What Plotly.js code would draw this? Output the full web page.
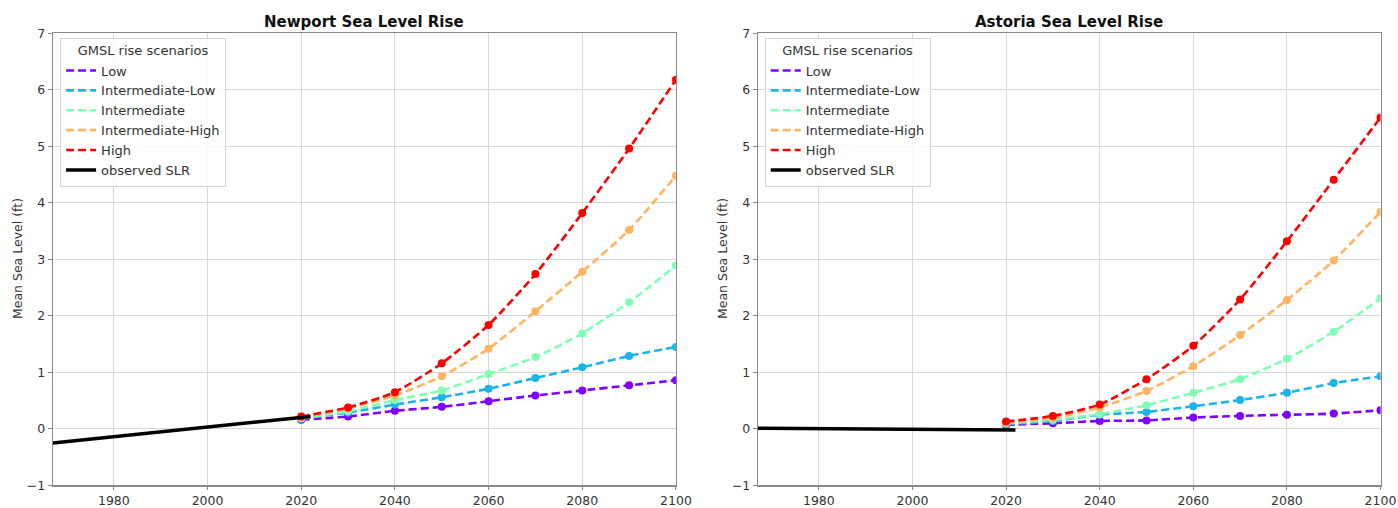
<!DOCTYPE html>
<html>
<head>
<meta charset="utf-8">
<script src="https://cdn.plot.ly/plotly-3.0.1.min.js"></script>
<style>html,body{margin:0;padding:0;background:#fff;}#chart{width:1398px;height:508px;}</style>
</head>
<body>
<div id="chart"></div>
<script>
// ---- data ----
const years = [2020, 2030, 2040, 2050, 2060, 2070, 2080, 2090, 2100];
const scenarioNames = ["Low", "Intermediate-Low", "Intermediate", "Intermediate-High", "High"];
const scenarioColors = ["#8000ff", "#1ab4eb", "#80ffb4", "#ffb462", "#ff0000"];

const newportLow      = [0.16, 0.22, 0.32, 0.39, 0.49, 0.59, 0.68, 0.77, 0.86];
const newportIntLow   = [0.18, 0.29, 0.43, 0.56, 0.71, 0.90, 1.09, 1.29, 1.45];
const newportInt      = [0.19, 0.31, 0.51, 0.68, 0.97, 1.27, 1.69, 2.24, 2.89];
const newportIntHigh  = [0.20, 0.36, 0.59, 0.93, 1.42, 2.08, 2.78, 3.52, 4.48];
const newportHigh     = [0.22, 0.38, 0.65, 1.16, 1.84, 2.74, 3.82, 4.96, 6.18];
const newportObsYears = [1967, 1980, 2000, 2022];
const newportObs      = [-0.25, -0.14, 0.03, 0.22];

const astoriaLow      = [0.07, 0.10, 0.14, 0.15, 0.20, 0.23, 0.25, 0.27, 0.33];
const astoriaIntLow   = [0.08, 0.14, 0.25, 0.30, 0.40, 0.51, 0.64, 0.81, 0.93];
const astoriaInt      = [0.10, 0.16, 0.26, 0.42, 0.64, 0.88, 1.24, 1.72, 2.31];
const astoriaIntHigh  = [0.11, 0.19, 0.38, 0.67, 1.11, 1.66, 2.28, 2.98, 3.84];
const astoriaHigh     = [0.13, 0.23, 0.43, 0.88, 1.47, 2.29, 3.32, 4.41, 5.51];
const astoriaObsYears = [1967, 1995, 2022];
const astoriaObs      = [0.01, -0.005, -0.02];

const xTickVals = [1980, 2000, 2020, 2040, 2060, 2080, 2100];
const yTickVals = [-1, 0, 1, 2, 3, 4, 5, 6, 7];

// ---- traces ----
function scenarioTraces(series, xa, ya, leg) {
  const lines = series.map((vals, i) => ({
    x: years, y: vals, xaxis: xa, yaxis: ya, legend: leg, legendgroup: leg + i,
    type: "scatter", mode: "lines", name: scenarioNames[i],
    line: {color: scenarioColors[i], width: 2.6, dash: "8px,4px", shape: "spline", smoothing: 0.6},
    showlegend: true
  }));
  const marks = series.map((vals, i) => ({
    x: years, y: vals, xaxis: xa, yaxis: ya, legend: leg, legendgroup: leg + i,
    type: "scatter", mode: "markers", name: scenarioNames[i],
    marker: {color: scenarioColors[i], size: 8},
    showlegend: false
  }));
  return lines.concat(marks);
}
function obsTrace(xs, ys, xa, ya, leg) {
  return {x: xs, y: ys, xaxis: xa, yaxis: ya, legend: leg, legendgroup: leg + "obs", type: "scatter", mode: "lines",
    name: "observed SLR", line: {color: "#000", width: 3.5}, showlegend: true};
}
const traces = [
  ...scenarioTraces([newportLow, newportIntLow, newportInt, newportIntHigh, newportHigh], "x", "y", "legend"),
  obsTrace(newportObsYears, newportObs, "x", "y", "legend"),
  ...scenarioTraces([astoriaLow, astoriaIntLow, astoriaInt, astoriaIntHigh, astoriaHigh], "x2", "y2", "legend2"),
  obsTrace(astoriaObsYears, astoriaObs, "x2", "y2", "legend2")
];

// ---- layout ----
const font = {family: "DejaVu Sans", size: 12, color: "#333"};
const tickFont = {family: "DejaVu Sans", size: 12.5, color: "#333"};
const yDomain = [0.0445, 0.9344];
function xAxis(domain, anchor) {
  return {domain: domain, anchor: anchor, range: [1967, 2100], tickvals: xTickVals,
    showgrid: true, gridcolor: "#d8d8d8", gridwidth: 1, zeroline: false,
    showline: true, mirror: true, linecolor: "#888", linewidth: 1.2,
    ticks: "outside", ticklen: 3, tickcolor: "#888", tickfont: tickFont};
}
function yAxis(anchor) {
  return {domain: yDomain, anchor: anchor, range: [-1, 7], tickvals: yTickVals,
    showgrid: true, gridcolor: "#d8d8d8", gridwidth: 1, zeroline: false,
    showline: true, mirror: true, linecolor: "#888", linewidth: 1.2,
    ticks: "outside", ticklen: 4, tickcolor: "#888", tickfont: tickFont};
}
function legendBox(x) {
  return {x: x, y: 0.926, xanchor: "left", yanchor: "top", bgcolor: "rgba(255,255,255,0.85)",
    bordercolor: "#d5d5d5", borderwidth: 1, font: {family: "DejaVu Sans", size: 13, color: "#333"},
    title: {text: "GMSL rise scenarios", side: "top center", font: {family: "DejaVu Sans", size: 13, color: "#333"}},
    traceorder: "grouped", tracegroupgap: 0, itemwidth: 30};
}
const layout = {
  width: 1398, height: 508, margin: {l: 0, r: 0, t: 0, b: 0},
  paper_bgcolor: "#fff", plot_bgcolor: "#fff", font: font,
  xaxis: xAxis([0.0379, 0.4835], "y"),
  yaxis: yAxis("x"),
  xaxis2: xAxis([0.5422, 0.9875], "y2"),
  yaxis2: yAxis("x2"),
  legend: legendBox(0.043),
  legend2: legendBox(0.547),
  annotations: [
    {text: "<b>Newport Sea Level Rise</b>", xref: "paper", yref: "paper", x: 0.2607, y: 0.957,
     xanchor: "center", yanchor: "middle", showarrow: false, font: {family: "DejaVu Sans", size: 15, color: "#111"}},
    {text: "<b>Astoria Sea Level Rise</b>", xref: "paper", yref: "paper", x: 0.7649, y: 0.957,
     xanchor: "center", yanchor: "middle", showarrow: false, font: {family: "DejaVu Sans", size: 15, color: "#111"}},
    {text: "Mean Sea Level (ft)", xref: "paper", yref: "paper", x: 17/1398, y: 0.49, textangle: -90,
     xanchor: "center", yanchor: "middle", showarrow: false, font: {family: "DejaVu Sans", size: 12.5, color: "#333"}},
    {text: "Mean Sea Level (ft)", xref: "paper", yref: "paper", x: 722/1398, y: 0.49, textangle: -90,
     xanchor: "center", yanchor: "middle", showarrow: false, font: {family: "DejaVu Sans", size: 12.5, color: "#333"}}
  ]
};
Plotly.newPlot("chart", traces, layout, {displayModeBar: false, staticPlot: true});
</script>
</body>
</html>
